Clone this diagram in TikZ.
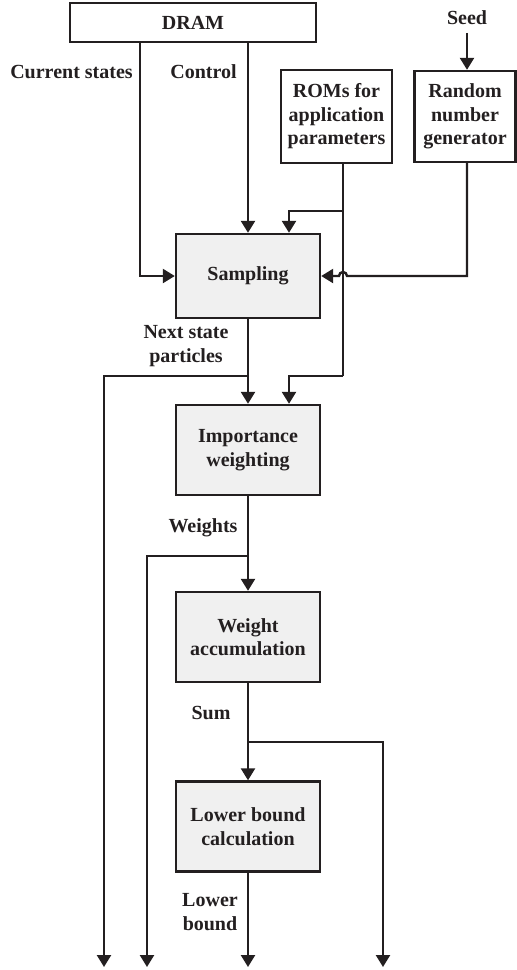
\documentclass[tikz,border=0pt]{standalone}
\usepackage{fontspec}
\setmainfont{Liberation Serif}
\usetikzlibrary{arrows.meta}
\definecolor{ink}{HTML}{231F20}
\definecolor{boxgray}{HTML}{F0F0F0}

\begin{document}
\begin{tikzpicture}[x=0.5pt, y=-0.5pt, line width=1.2pt, color=ink,
		font=\fontsize{10}{11.75}\selectfont\bfseries,
		blk/.style={draw, align=center, inner sep=0pt},
		proc/.style={blk, fill=boxgray, minimum width=72pt, minimum height=45pt},
		arr/.style={-{Triangle[length=6pt, width=7pt]}}]
			\useasboundingbox (0,0) rectangle (516,970);
			\node[blk, minimum width=123pt, minimum height=19.5pt] (dram) at (193,22.5) {DRAM};
			\node[blk, minimum width=55.5pt, minimum height=46.5pt] (rom) at (336.5,116.5) {ROMs for\\application\\parameters};
			\node[blk, minimum width=50.5pt, minimum height=45.5pt] (rng) at (465,116.5) {Random\\number\\generator};
			\node[proc, minimum height=42pt] (samp) at (248,276) {Sampling};
			\node[proc] (imp) at (248,450) {Importance\\weighting};
			\node[proc] (wa) at (248,637) {Weight\\accumulation};
			\node[proc] (lb) at (248,826.5) {Lower bound\\calculation};

			\node (seed) at (467,18) {Seed};
			\node (curlab) at (71.5,72) {Current states};
			\node (ctllab) at (203.5,72) {Control};
			\node[align=center] (nsplab) at (186,346) {Next state\\particles};
			\node (wlab) at (203,528) {Weights};
			\node (slab) at (211,713) {Sum};
			\node[align=center] (lblab) at (210,912) {Lower\\bound};

			\coordinate (cur) at (140,276);
			\coordinate (rin) at (289,211);
			\coordinate (rtap1) at (343,211);
			\coordinate (rtap2) at (343,376);
			\coordinate (jmp) at (347,276);
			\coordinate (nsp) at (248,376);
			\coordinate (wtap) at (248,556);
			\coordinate (stap) at (248,742);
			\coordinate (o1) at (104,967);
			\coordinate (o2) at (147,967);
			\coordinate (o3) at (248,967);
			\coordinate (o4) at (383,967);

			\draw[arr] (dram.south -| cur) |- (samp.west);
			\draw[arr] (dram.south -| samp) -- (samp.north);
			\draw (rom.south -| rtap1) -- (rtap2);
			\draw[arr] (rtap1) -| (samp.north -| rin);
			\draw[arr] (rtap2) -| (imp.north -| rin);
			\draw[arr] (seed.south) -- (rng.north -| seed);
			\draw[arr] (rng.south -| seed) |- (jmp) arc[start angle=0, end angle=-180, radius=4] -- (samp.east);
			\path[arr]
			(samp) edge (imp)
			(imp) edge (wa)
			(wa) edge (lb)
			(lb) edge (o3);
			\draw[arr] (nsp) -| (o1);
			\draw[arr] (wtap) -| (o2);
			\draw[arr] (stap) -| (o4);
		\end{tikzpicture}
\end{document}
